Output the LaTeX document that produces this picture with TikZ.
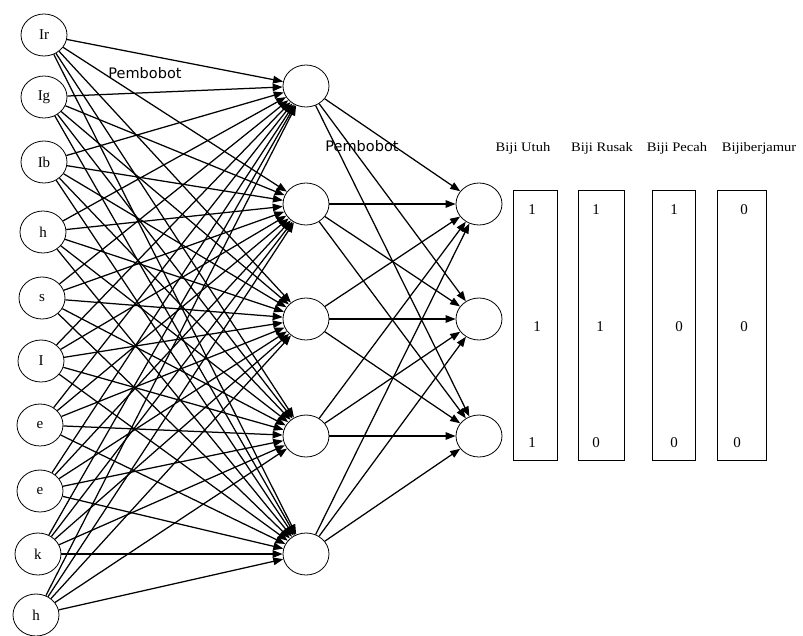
\documentclass[tikz,border=0pt]{standalone}
\usepackage{fontspec}
\setmainfont{Liberation Serif}
\newfontfamily\labelsans{DejaVu Sans}
\usetikzlibrary{shapes.geometric,arrows.meta}
\begin{document}
\begin{tikzpicture}[x=1pt,y=-1pt,
  neuron/.style={draw, ellipse, line width=0.8pt, minimum width=46pt, minimum height=42pt,
    inner sep=0pt, font=\fontsize{15}{17}\selectfont},
  link/.style={line width=1.25pt, -{Triangle[length=10pt,width=7.5pt]}},
  outbox/.style={draw, rectangle, line width=0.8pt, minimum height=270pt, inner sep=0pt},
  digit/.style={inner sep=0pt, font=\fontsize{15}{17}\selectfont},
  header/.style={inner sep=0pt, font=\fontsize{13}{15}\selectfont},
  weightlbl/.style={inner sep=0pt, font=\labelsans\fontsize{14.5}{17}\selectfont}
]
\useasboundingbox (0,0) rectangle (803,635);

% input layer
\node[neuron] (in1)  at (44,35)  {Ir};
\node[neuron] (in2)  at (44,97)  {Ig};
\node[neuron] (in3)  at (44,162) {Ib};
\node[neuron] (in4)  at (43,232) {h};
\node[neuron] (in5)  at (42,298) {s};
\node[neuron] (in6)  at (41,361) {I};
\node[neuron] (in7)  at (40,425) {e};
\node[neuron] (in8)  at (40,491) {e};
\node[neuron] (in9)  at (38,554) {k};
\node[neuron] (in10) at (36,615) {h};

% hidden layer
\foreach \j/\y in {1/86,2/204,3/319,4/436,5/554}
  \node[neuron] (hid\j) at (306,\y) {};

% output layer
\foreach \k/\y in {1/204,2/319,3/436}
  \node[neuron] (out\k) at (479,\y) {};

% connections
\foreach \i in {1,...,10}
  \foreach \j in {1,...,5}
    \draw[link] (in\i) -- (hid\j);
\foreach \j in {1,...,5}
  \foreach \k in {1,2,3}
    \draw[link] (hid\j) -- (out\k);

% weight labels
\node[weightlbl] (w1) at (145,73) {Pembobot};
\node[weightlbl] (w2) at (362,146) {Pembobot};

% target vectors
\node[outbox, minimum width=44pt] (b1) at (535,325) {};
\node[outbox, minimum width=46pt] (b2) at (601,325) {};
\node[outbox, minimum width=43pt] (b3) at (673.5,325) {};
\node[outbox, minimum width=49pt] (b4) at (741.5,325) {};

\node[header] (h1) at (523,148) {\scalebox{1.12}[1]{Biji Utuh}};
\node[header] (h2) at (602,148) {\scalebox{1.12}[1]{Biji Rusak}};
\node[header] (h3) at (677,148) {\scalebox{1.12}[1]{Biji Pecah}};
\node[header] (h4) at (759,148) {\scalebox{1.12}[1]{Bijiberjamur}};

\node[digit] (d11) at (532,210) {1};
\node[digit] (d12) at (537,327) {1};
\node[digit] (d13) at (532,443) {1};
\node[digit] (d21) at (596,210) {1};
\node[digit] (d22) at (600,327) {1};
\node[digit] (d23) at (596,443) {0};
\node[digit] (d31) at (674,210) {1};
\node[digit] (d32) at (679,327) {0};
\node[digit] (d33) at (674,443) {0};
\node[digit] (d41) at (744,210) {0};
\node[digit] (d42) at (744,327) {0};
\node[digit] (d43) at (737,443) {0};
\end{tikzpicture}
\end{document}
